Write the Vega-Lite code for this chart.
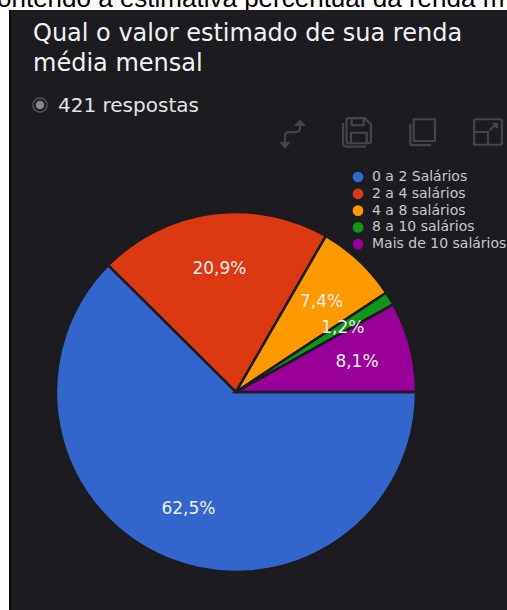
{
  "$schema": "https://vega.github.io/schema/vega-lite/v6.json",
  "width": 360,
  "height": 360,
  "autosize": {"type": "none"},
  "padding": {"left": 56, "top": 212, "right": 91, "bottom": 38},
  "background": "#ffffff",
  "view": {"stroke": null},
  "layer": [
    {
      "data": {"values": [{"caption": "ontendo a estimativa percentual da renda m"}]},
      "mark": {"type": "text", "font": "Liberation Sans", "fontSize": 26, "align": "left", "baseline": "alphabetic", "color": "#000000", "clip": false},
      "encoding": {"x": {"value": -59}, "y": {"value": -205}, "text": {"field": "caption"}}
    },
    {
      "data": {"values": [{"panel": "fundo"}]},
      "mark": {"type": "rect", "color": "#1b1b20"},
      "encoding": {"x": {"value": -47}, "x2": {"value": 451}, "y": {"value": -202}, "y2": {"value": 398}}
    },
    {
      "data": {"values": [{"panel": "borda"}]},
      "mark": {"type": "rect", "color": "#08080a"},
      "encoding": {"x": {"value": -47}, "x2": {"value": -45}, "y": {"value": -202}, "y2": {"value": 398}}
    },
    {
      "data": {"values": [{"titulo": "Qual o valor estimado de sua renda|média mensal"}]},
      "mark": {"type": "text", "font": "DejaVu Sans", "fontSize": 24, "lineBreak": "|", "lineHeight": 30, "align": "left", "baseline": "alphabetic", "color": "#f2f2f2"},
      "encoding": {"x": {"value": -23}, "y": {"value": -171}, "text": {"field": "titulo"}}
    },
    {
      "data": {"values": [{"resp": "421 respostas"}]},
      "mark": {"type": "text", "font": "DejaVu Sans", "fontSize": 20, "align": "left", "baseline": "alphabetic", "color": "#e4e4e4"},
      "encoding": {"x": {"value": 2}, "y": {"value": -100}, "text": {"field": "resp"}}
    },
    {
      "data": {"values": [{"icon": "radio"}]},
      "mark": {"type": "point", "shape": "circle", "size": 200, "filled": false, "stroke": "#6b6b70", "strokeWidth": 1.5},
      "encoding": {"x": {"value": -16}, "y": {"value": -107}}
    },
    {
      "data": {"values": [{"icon": "radio"}]},
      "mark": {"type": "point", "shape": "circle", "size": 75, "filled": true, "fill": "#85858a", "opacity": 1},
      "encoding": {"x": {"value": -16}, "y": {"value": -107}}
    },
    {
      "data": {"values": [{"icon": "swap"}]},
      "mark": {"type": "point", "size": 900, "filled": false, "stroke": "#56565b", "strokeWidth": 2.2, "shape": "M-0.47 0.73V0.13Q-0.47 -0.13 -0.2 -0.13H0.27Q0.53 -0.13 0.53 -0.4V-0.73M0.3 -0.6L0.53 -0.87L0.76 -0.6ZM-0.7 0.6L-0.47 0.87L-0.24 0.6Z"},
      "encoding": {"x": {"value": 236}, "y": {"value": -78}}
    },
    {
      "data": {"values": [{"icon": "save"}]},
      "mark": {"type": "point", "size": 900, "filled": false, "stroke": "#56565b", "strokeWidth": 2.2, "shape": "M-0.55 -0.93H0.5L0.93 -0.5V0.6Q0.93 0.75 0.78 0.75H-0.55Q-0.7 0.75 -0.7 0.6V-0.78Q-0.7 -0.93 -0.55 -0.93ZM-0.35 -0.93V-0.45H0.45V-0.93M-0.4 0.75V0.05H0.65V0.75M-0.93 -0.6V0.75Q-0.93 0.97 -0.7 0.97H0.6"},
      "encoding": {"x": {"value": 301}, "y": {"value": -80}}
    },
    {
      "data": {"values": [{"icon": "copy"}]},
      "mark": {"type": "point", "size": 900, "filled": false, "stroke": "#56565b", "strokeWidth": 2.2, "shape": "M-0.62 -0.85H0.8V0.6H-0.62ZM-0.85 -0.55V0.75Q-0.85 0.87 -0.7 0.87H0.55"},
      "encoding": {"x": {"value": 367}, "y": {"value": -80}}
    },
    {
      "data": {"values": [{"icon": "expand"}]},
      "mark": {"type": "point", "size": 900, "filled": false, "stroke": "#56565b", "strokeWidth": 2.2, "shape": "M-0.8 -0.85H0.8Q0.93 -0.85 0.93 -0.7V0.7Q0.93 0.85 0.8 0.85H-0.8Q-0.93 0.85 -0.93 0.7V-0.7Q-0.93 -0.85 -0.8 -0.85ZM-0.93 0V0.85H0V0H-0.93M0.1 -0.1L0.6 -0.55M0.3 -0.55H0.6V-0.25"},
      "encoding": {"x": {"value": 432}, "y": {"value": -80}}
    },
    {
      "data": {"name": "renda", "values": [
        {"faixa": "0 a 2 Salários", "pct": 62.5, "rotulo": "62,5%", "ordem": 1},
        {"faixa": "2 a 4 salários", "pct": 20.9, "rotulo": "20,9%", "ordem": 2},
        {"faixa": "4 a 8 salários", "pct": 7.4, "rotulo": "7,4%", "ordem": 3},
        {"faixa": "8 a 10 salários", "pct": 1.2, "rotulo": "1,2%", "ordem": 4},
        {"faixa": "Mais de 10 salários", "pct": 8.1, "rotulo": "8,1%", "ordem": 5}
      ]},
      "layer": [
        {
          "mark": {"type": "arc", "stroke": "#1b1b20", "strokeWidth": 2.5},
          "encoding": {
            "theta": {"field": "pct", "type": "quantitative", "stack": true, "scale": {"range": [1.5708, 7.854]}},
            "order": {"field": "ordem", "type": "ordinal"},
            "color": {
              "field": "faixa",
              "type": "nominal",
              "sort": null,
              "scale": {
                "domain": ["0 a 2 Salários", "2 a 4 salários", "4 a 8 salários", "8 a 10 salários", "Mais de 10 salários"],
                "range": ["#3366cc", "#dc3912", "#ff9900", "#109618", "#990099"]
              },
              "legend": {
                "title": null,
                "orient": "none",
                "legendX": 295,
                "legendY": -42,
                "symbolType": "circle",
                "symbolSize": 115,
                "symbolStrokeWidth": 0,
                "labelFont": "DejaVu Sans",
                "labelFontSize": 14,
                "labelColor": "#c9c9cc",
                "labelLimit": 200,
                "labelOffset": 7,
                "rowPadding": 2.8
              }
            }
          }
        },
        {
          "mark": {"type": "text", "radius": 125, "dy": 1, "font": "DejaVu Sans", "fontSize": 17, "color": "#f0eef0"},
          "encoding": {
            "theta": {"field": "pct", "type": "quantitative", "stack": true, "scale": {"range": [1.5708, 7.854]}},
            "order": {"field": "ordem", "type": "ordinal"},
            "detail": {"field": "faixa"},
            "text": {"field": "rotulo"}
          }
        }
      ]
    }
  ]
}
